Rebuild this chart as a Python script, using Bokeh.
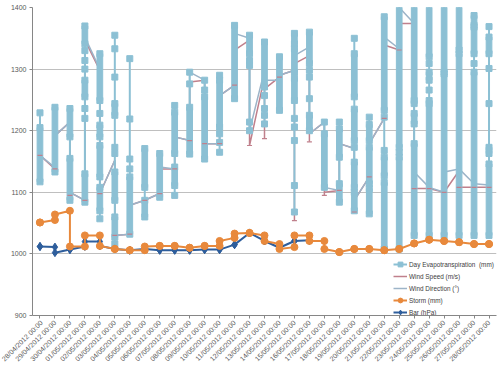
from math import pi
from bokeh.plotting import figure
from bokeh.models import Range1d, FactorRange, Legend, LegendItem, FixedTicker
from bokeh.embed import file_html
from bokeh.resources import INLINE

# ---------------- data ----------------
dates = ["28/04/2012 00:00", "29/04/2012 00:00", "30/04/2012 00:00",
         "01/05/2012 00:00", "02/05/2012 00:00", "03/05/2012 00:00", "04/05/2012 00:00",
         "05/05/2012 00:00", "06/05/2012 00:00", "07/05/2012 00:00", "08/05/2012 00:00",
         "09/05/2012 00:00", "10/05/2012 00:00", "11/05/2012 00:00", "12/05/2012 00:00",
         "13/05/2012 00:00", "14/05/2012 00:00", "15/05/2012 00:00", "16/05/2012 00:00",
         "17/05/2012 00:00", "18/05/2012 00:00", "19/05/2012 00:00", "20/05/2012 00:00",
         "21/05/2012 00:00", "22/05/2012 00:00", "23/05/2012 00:00", "24/05/2012 00:00",
         "25/05/2012 00:00", "26/05/2012 00:00", "27/05/2012 00:00", "28/05/2012 00:00"]

y_ticks = [900, 1000, 1100, 1200, 1300, 1400]

# Day Evapotranspiration: dense runs of readings (low, high) per day
evap_blocks = [
    [(1117, 1205)],
    [(1133, 1238)],
    [(1190, 1236), (1087, 1155)],
    [(1341, 1370), (1255, 1282), (1084, 1130)],
    [(1249, 1325), (1190, 1209), (1125, 1176), (1070, 1108)],
    [(1225, 1244), (1087, 1133), (1027, 1060)],
    [(1032, 1125)],
    [(1108, 1171), (1060, 1087)],
    [(1092, 1163)],
    [(1163, 1230), (1111, 1141)],
    [(1162, 1238)],
    [(1154, 1255)],
    [(1206, 1282)],
    [(1252, 1371)],
    [(1325, 1355)],
    [(1271, 1344)],
    [(1233, 1320)],
    [(1341, 1358), (1295, 1333), (1249, 1285)],
    [(1309, 1360), (1200, 1225)],
    [(1108, 1195)],
    [(1157, 1203), (1084, 1114)],
    [(1255, 1325), (1184, 1235), (1108, 1149), (1070, 1100)],
    [(1184, 1210), (1114, 1173), (1065, 1106)],
    [(1233, 1385), (1127, 1157), (1008, 1116)],
    [(1173, 1405), (1008, 1157)],
    [(1249, 1405), (1211, 1228), (1030, 1179)],
    [(1320, 1405), (1282, 1295), (1030, 1244)],
    [(1295, 1405), (1030, 1292)],
    [(1331, 1405), (1030, 1325)],
    [(1371, 1387), (1325, 1368), (1030, 1295)],
    [(1325, 1352), (1163, 1173), (1030, 1146)],
]
# Day Evapotranspiration: isolated readings per day
evap_marks = [
    [1229], [], [], [1330, 1314, 1300, 1236, 1220], [1228, 1057],
    [1355, 1333, 1287, 1173, 1163, 1016], [1317, 1219, 1154, 1138], [], [], [1241, 1095],
    [1295, 1276], [1282, 1266], [1290, 1195, 1181, 1165], [], [1314, 1306, 1214, 1200],
    [1257, 1236, 1225, 1211], [], [1220, 1206, 1184, 1111, 1068], [1298, 1287, 1252], [1214],
    [1214], [1350, 1173], [1222], [1222, 1168], [1165],
    [1244], [1309, 1266, 1249], [], [], [1309],
    [1369, 1301, 1244],
]

# Wind Speed (m/s): first, lowest and last reading of each day
ws_first = [1160, 1138, 1214, 1087, 1298, 1152, 1032, 1087, 1098, 1138, 1184, 1282, 1179, 1274, 1347, 1287,
            1287, 1298, 1322, 1214, 1103, 1171, 1125, 1220, 1331, 1374, 1106, 1100, 1135, 1108, 1108]
ws_low = [1160, 1138, 1095, 1087, 1098, 1030, 1032, 1087, 1098, 1138, 1184, 1179, 1179, 1274, 1176, 1187,
          1287, 1054, 1182, 1095, 1103, 1068, 1125, 1220, 1331, 1106, 1106, 1100, 1108, 1108, 1108]
ws_last = [1160, 1192, 1100, 1347, 1098, 1030, 1079, 1087, 1138, 1190, 1279, 1179, 1257, 1331, 1176, 1268,
           1290, 1309, 1195, 1100, 1179, 1087, 1179, 1339, 1374, 1106, 1106, 1100, 1108, 1108, 1108]

# Wind Direction: first and last reading of each day
wd_first = [1160, 1140, 1214, 1087, 1300, 1152, 1032, 1087, 1098, 1138, 1184, 1282, 1179, 1274, 1350, 1298,
            1282, 1298, 1336, 1214, 1103, 1171, 1125, 1220, 1333, 1374, 1108, 1100, 1138, 1114, 1112]
wd_last = [1160, 1192, 1100, 1352, 1098, 1030, 1079, 1087, 1141, 1190, 1295, 1179, 1257, 1358, 1200, 1282,
           1290, 1322, 1195, 1108, 1179, 1087, 1179, 1352, 1400, 1133, 1108, 1133, 1138, 1114, 1112]

# Storm (mm): first and last reading of each day
storm_first = [1051, 1055, 1070, 1012, 1030, 1008, 1006, 1006, 1013, 1013, 1010, 1013, 1013, 1026, 1034, 1030,
               1016, 1011, 1030, 1021, 1003, 1008, 1008, 1006, 1008, 1017, 1023, 1021, 1019, 1016, 1016]
storm_last = [1051, 1064, 1012, 1030, 1013, 1008, 1006, 1012, 1013, 1013, 1010, 1013, 1021, 1033, 1034, 1021,
              1008, 1030, 1021, 1008, 1003, 1008, 1008, 1006, 1008, 1017, 1023, 1021, 1019, 1016, 1016]

# Bar (hPa): first and last reading of each day (first 19 days)
bar_first = [1012, 1011, 1007, 1012, 1020, 1008, 1006, 1008, 1006, 1006, 1006, 1007, 1007, 1015, 1034, 1021,
             1010, 1021, 1022]
bar_last = [1012, 1002, 1007, 1020, 1013, 1008, 1006, 1008, 1006, 1006, 1006, 1007, 1007, 1015, 1034, 1021,
            1010, 1021, 1022]

# ---------------- styles ----------------
C_EVAP = "#8CC0D4"
C_WS = "#C0808C"
C_WD = "#9DB4C8"
C_STORM = "#E8893C"
C_BAR = "#2E5E9C"
FONT = "Liberation Sans"

p = figure(width=500, height=375,
           x_range=FactorRange(factors=dates, range_padding=0),
           y_range=Range1d(900, 1400),
           output_backend="svg", toolbar_location=None,
           min_border_left=32, min_border_right=4, min_border_top=7, min_border_bottom=60)
p.outline_line_color = None
p.background_fill_color = "white"
p.border_fill_color = "white"

p.xgrid.visible = False
p.ygrid.grid_line_color = "#BFBFBF"
p.ygrid.grid_line_width = 1
p.yaxis.ticker = FixedTicker(ticks=y_ticks)
for ax in (p.xaxis[0], p.yaxis[0]):
    ax.axis_line_color = "#868686"
    ax.major_tick_line_color = "#868686"
    ax.major_tick_out = 3
    ax.major_tick_in = 0
    ax.minor_tick_line_color = None
    ax.major_label_text_font = FONT
    ax.major_label_text_font_size = "7px"
    ax.major_label_text_color = "#595959"
    ax.major_label_standoff = 3
p.xaxis.major_label_orientation = pi / 4

# ---- wind lines (paths through each day's readings) ----
ws_x, ws_y = [], []
for d, a, lo, b in zip(dates, ws_first, ws_low, ws_last):
    ws_x += [d, d, d]
    ws_y += [a, lo, b]
r_ws = p.line(ws_x, ws_y, line_color=C_WS, line_width=1.5)

wd_x, wd_y = [], []
for d, a, b in zip(dates, wd_first, wd_last):
    wd_x += [d, d]
    wd_y += [a, b]
r_wd = p.line(wd_x, wd_y, line_color=C_WD, line_width=1.5)

# ---- evapotranspiration ----
seg_x, seg_lo, seg_hi = [], [], []
blk_x, blk_lo, blk_hi = [], [], []
mk_x, mk_y = [], []
for d, blocks, marks in zip(dates, evap_blocks, evap_marks):
    vals = [v for b in blocks for v in b] + list(marks)
    seg_x.append(d)
    seg_lo.append(min(vals))
    seg_hi.append(max(vals))
    for lo, hi in blocks:
        blk_x.append(d)
        blk_lo.append(lo)
        blk_hi.append(hi)
        mk_x += [d, d]
        mk_y += [lo, hi]
    for m in marks:
        mk_x.append(d)
        mk_y.append(m)

r_evap_line = p.segment(x0=seg_x, y0=seg_lo, x1=seg_x, y1=seg_hi, line_color=C_EVAP, line_width=2)
p.vbar(x=blk_x, bottom=blk_lo, top=blk_hi, width=0.38, fill_color=C_EVAP, line_color=C_EVAP)
r_evap_mk = p.scatter(mk_x, mk_y, marker="square", size=6, fill_color=C_EVAP, line_color=C_EVAP)

# wind speed tick marks
p.scatter(dates, ws_low, marker="dash", size=5, line_color=C_WS, line_width=1.2)

# ---- bar ----
bar_x, bar_y = [], []
for d, a, b in zip(dates, bar_first, bar_last):
    bar_x += [d, d]
    bar_y += [a, b]
r_bar = p.line(bar_x, bar_y, line_color=C_BAR, line_width=2)
r_bar_mk = p.scatter(bar_x, bar_y, marker="diamond", size=8, fill_color=C_BAR, line_color=C_BAR)

# ---- storm ----
st_x, st_y = [], []
for d, a, b in zip(dates, storm_first, storm_last):
    st_x += [d, d]
    st_y += [a, b]
r_st = p.line(st_x, st_y, line_color=C_STORM, line_width=2)
r_st_mk = p.scatter(st_x, st_y, marker="circle", size=7, fill_color=C_STORM, line_color=C_STORM)

legend = Legend(items=[
    LegendItem(label="Day Evapotranspiration  (mm)", renderers=[r_evap_line, r_evap_mk]),
    LegendItem(label="Wind Speed (m/s)", renderers=[r_ws]),
    LegendItem(label="Wind Direction (°)", renderers=[r_wd]),
    LegendItem(label="Storm (mm)", renderers=[r_st, r_st_mk]),
    LegendItem(label="Bar (hPa)", renderers=[r_bar, r_bar_mk]),
], location=(361, -3), padding=0, margin=0, spacing=0,
    glyph_width=14, glyph_height=12, label_height=12, label_standoff=2,
    label_text_font=FONT, label_text_font_size="6.4px", label_text_color="#404040",
    background_fill_alpha=0, border_line_color=None)
p.add_layout(legend, "center")

open("out.html", "w").write(file_html(p, INLINE))
